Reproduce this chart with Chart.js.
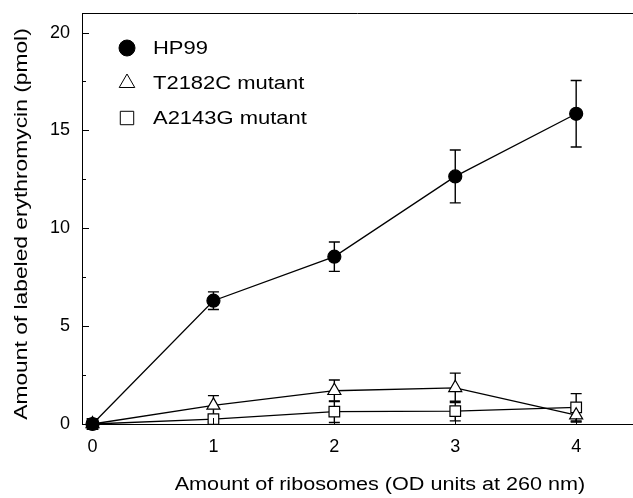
<!DOCTYPE html>
<html>
<head>
<meta charset="utf-8">
<title>Erythromycin binding</title>
<script src="https://cdn.jsdelivr.net/npm/chart.js@4.4.0/dist/chart.umd.min.js"></script>
<style>
  html, body { margin: 0; padding: 0; background: #fff; }
  #wrap { width: 633px; height: 498px; }
</style>
</head>
<body>
<div id="wrap"><canvas id="chart" width="633" height="498"></canvas></div>
<script>
// === Data ===
const xValues = [0, 1, 2, 3, 4];
const hp99 = [0, 6.3, 8.55, 12.65, 15.85];
const hp99Err = [0.1, 0.45, 0.75, 1.35, 1.7];
const t2182c = [0, 0.95, 1.7, 1.85, 0.45];
const t2182cErr = [0.1, 0.5, 0.55, 0.75, 0.35];
const a2143g = [0, 0.25, 0.63, 0.66, 0.85];
const a2143gErr = [0.05, 0.15, 0.55, 0.5, 0.7];

const seriesNames = ["HP99", "T2182C mutant", "A2143G mutant"];
const xTicks = [0, 1, 2, 3, 4];
const yTicks = [0, 5, 10, 15, 20];
const yMinorTicks = [2.5, 7.5, 12.5, 17.5];
const xTitle = "Amount of ribosomes (OD units at 260 nm)";
const yTitle = "Amount of labeled erythromycin (pmol)";

const FONT = "'Liberation Sans', Arial, sans-serif";

function toPoints(ys) {
  return xValues.map((x, i) => ({ x: x, y: ys[i] }));
}

const errors = [hp99Err, t2182cErr, a2143gErr];

// the scanned figure has slightly wide lettering, so text gets a horizontal stretch
function wideText(ctx, text, x, y, size, stretch, rotation) {
  ctx.save();
  ctx.translate(x, y);
  ctx.rotate(rotation || 0);
  ctx.scale(stretch, 1);
  ctx.font = size + "px " + FONT;
  ctx.fillText(text, 0, 0);
  ctx.restore();
}

// === Error bars, inside ticks, top frame line, titles, legend ===
const decorations = {
  id: "decorations",
  beforeDatasetsDraw(chart) {
    const ctx = chart.ctx;
    const xs = chart.scales.x, ys = chart.scales.y;
    ctx.save();
    ctx.strokeStyle = "#000";
    ctx.lineWidth = 1.4;
    chart.data.datasets.forEach((ds, di) => {
      ds.data.forEach((p, i) => {
        const e = errors[di][i];
        const px = xs.getPixelForValue(p.x);
        const top = ys.getPixelForValue(p.y + e);
        const bot = ys.getPixelForValue(p.y - e);
        ctx.beginPath();
        ctx.moveTo(px, top); ctx.lineTo(px, bot);
        ctx.moveTo(px - 5.5, top); ctx.lineTo(px + 5.5, top);
        ctx.moveTo(px - 5.5, bot); ctx.lineTo(px + 5.5, bot);
        ctx.stroke();
      });
    });
    ctx.restore();
  },
  afterDraw(chart) {
    const ctx = chart.ctx;
    const area = chart.chartArea;
    const xs = chart.scales.x, ys = chart.scales.y;
    ctx.save();
    ctx.strokeStyle = "#000";
    ctx.lineWidth = 1;

    // top frame line
    ctx.beginPath();
    ctx.moveTo(area.left, area.top + 0.5);
    ctx.lineTo(area.right, area.top + 0.5);
    ctx.stroke();

    // y ticks (inside)
    ctx.beginPath();
    yTicks.forEach(v => {
      const py = Math.round(ys.getPixelForValue(v)) + 0.5;
      ctx.moveTo(area.left, py); ctx.lineTo(area.left + 7, py);
    });
    yMinorTicks.forEach(v => {
      const py = Math.round(ys.getPixelForValue(v)) + 0.5;
      ctx.moveTo(area.left, py); ctx.lineTo(area.left + 4, py);
    });
    // x ticks (inside)
    xTicks.forEach(v => {
      const px = Math.round(xs.getPixelForValue(v)) + 0.5;
      ctx.moveTo(px, area.bottom); ctx.lineTo(px, area.bottom - 6);
    });
    ctx.stroke();

    // axis titles
    ctx.fillStyle = "#000";
    ctx.textAlign = "center";
    ctx.textBaseline = "alphabetic";
    wideText(ctx, xTitle, 380, 490, 18, 1.2, 0);
    wideText(ctx, yTitle, 27, 224, 19, 1.2, -Math.PI / 2);

    // legend
    const legendX = 127, legendY = [48, 83, 118], textX = 153;
    const styles = [
      { pointStyle: "circle", radius: 8, fill: "#000" },
      { pointStyle: "triangle", radius: 9, fill: "#fff" },
      { pointStyle: "rect", radius: 9.5, fill: "#fff" }
    ];
    styles.forEach((s, i) => {
      ctx.fillStyle = s.fill;
      ctx.strokeStyle = "#000";
      ctx.lineWidth = 1;
      Chart.helpers.drawPoint(ctx, { pointStyle: s.pointStyle, radius: s.radius, rotation: 0, borderWidth: 1 }, legendX, legendY[i]);
      ctx.fillStyle = "#000";
      ctx.textAlign = "left";
      ctx.textBaseline = "middle";
      wideText(ctx, seriesNames[i], textX, legendY[i] + 1, 18, 1.22, 0);
    });
    ctx.restore();
  }
};

const lineStyle = {
  showLine: true,
  borderColor: "#000",
  borderWidth: 1.3,
  pointBorderColor: "#000",
  pointBorderWidth: 1.2,
  clip: false,
  tension: 0
};

// no label overhang padding, the plot box is fixed
function noPad(s) {
  s.paddingLeft = 0; s.paddingRight = 0;
  s.paddingTop = 0; s.paddingBottom = 0;
}

const ctx = document.getElementById("chart").getContext("2d");
new Chart(ctx, {
  type: "scatter",
  data: {
    datasets: [
      Object.assign({}, lineStyle, {
        label: seriesNames[0],
        data: toPoints(hp99),
        pointStyle: "circle",
        pointRadius: 6.5,
        pointBackgroundColor: "#000"
      }),
      Object.assign({}, lineStyle, {
        label: seriesNames[1],
        data: toPoints(t2182c),
        pointStyle: "triangle",
        pointRadius: 7.5,
        pointBackgroundColor: "#fff"
      }),
      Object.assign({}, lineStyle, {
        label: seriesNames[2],
        data: toPoints(a2143g),
        pointStyle: "rect",
        pointRadius: 7.5,
        pointBackgroundColor: "#fff"
      })
    ]
  },
  options: {
    responsive: false,
    animation: false,
    devicePixelRatio: 1,
    layout: { autoPadding: false, padding: { top: 13, right: 0, left: 0, bottom: 0 } },
    plugins: {
      legend: { display: false },
      tooltip: { enabled: false }
    },
    scales: {
      x: {
        type: "linear",
        min: -0.087,
        max: 4.47,
        afterBuildTicks: s => { s.ticks = xTicks.map(v => ({ value: v })); },
        afterFit: s => { s.height = 74; noPad(s); },
        grid: { display: true, drawOnChartArea: false, drawTicks: false },
        border: { display: true, color: "#000", width: 1 },
        ticks: {
          color: "#000",
          padding: 12,
          font: { family: FONT, size: 18 },
          callback: v => String(v)
        }
      },
      y: {
        type: "linear",
        min: 0,
        max: 21,
        afterBuildTicks: s => { s.ticks = yTicks.map(v => ({ value: v })); },
        afterFit: s => { s.width = 82; noPad(s); },
        grid: { display: true, drawOnChartArea: false, drawTicks: false },
        border: { display: true, color: "#000", width: 1 },
        ticks: {
          color: "#000",
          padding: 12,
          font: { family: FONT, size: 18 },
          callback: v => String(v)
        }
      }
    }
  },
  plugins: [decorations]
});
</script>
</body>
</html>
